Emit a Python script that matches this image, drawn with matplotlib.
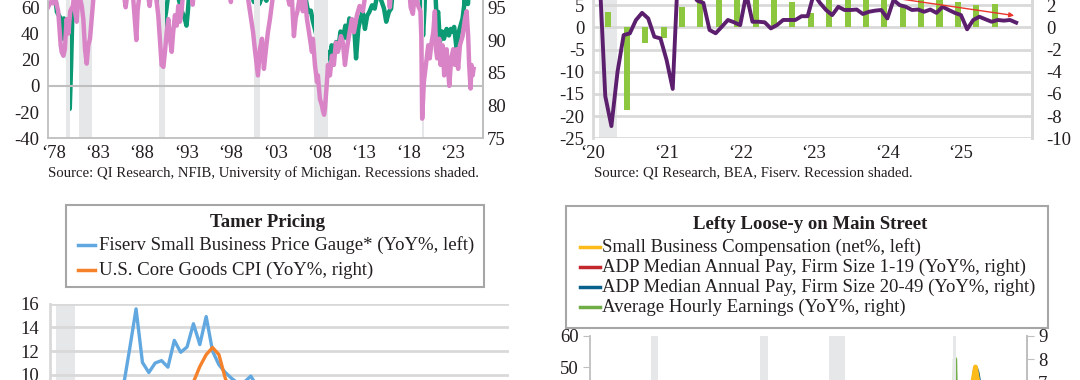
import matplotlib
matplotlib.use("Agg")
import matplotlib.pyplot as plt
from matplotlib.patches import Rectangle
from matplotlib.lines import Line2D

plt.rcParams['font.family'] = ['Liberation Serif', 'DejaVu Serif']
plt.rcParams['axes.unicode_minus'] = False

W, H = 1080, 380
TXT = '#231F20'
GRID = '#D9D9D9'
SPINE = '#BFBFBF'
SHADE = '#E6E7E8'

# recessions (decimal years)
rec_start = [1980.0, 1981.5, 1990.5, 2001.17, 2007.92, 2020.08]
rec_end = [1980.5, 1982.92, 1991.17, 2001.92, 2009.5, 2020.33]

# ---- top left: NFIB / Michigan ----
pink_pts = [
    (1978.0, 60), (1978.3, 64), (1978.6, 63), (1978.85, 66), (1979.15, 57), (1979.43, 31),
    (1979.54, 26), (1979.73, 23), (1979.9, 28), (1980.1, 51), (1980.3, 40), (1980.5, 57),
    (1980.8, 61), (1980.95, 70), (1981.04, 57), (1981.23, 49), (1981.45, 72), (1981.8, 61),
    (1981.98, 51), (1982.17, 28), (1982.36, 17), (1982.54, 31), (1982.73, 36), (1982.92, 51),
    (1983.2, 74), (1984.0, 88), (1985.0, 84), (1986.0, 82), (1986.5, 72), (1986.75, 60),
    (1987.0, 74), (1987.5, 76), (1987.8, 48), (1987.95, 35), (1988.1, 58), (1988.4, 75),
    (1989.0, 80), (1989.3, 68), (1989.45, 61), (1989.65, 74), (1990.1, 72), (1990.42, 54),
    (1990.6, 36), (1990.8, 16), (1991.0, 14.5), (1991.2, 28), (1991.37, 41), (1991.55, 51),
    (1991.74, 36), (1991.93, 26), (1992.1, 41), (1992.3, 54), (1992.5, 46), (1992.67, 61),
    (1992.86, 49), (1993.05, 57), (1993.2, 70), (1994.0, 80), (1994.3, 62), (1994.5, 78),
    (1995.5, 84), (1996.5, 86), (1997.5, 94), (1998.4, 90), (1998.6, 64), (1998.8, 90),
    (1999.5, 97), (2000.3, 92), (2000.55, 66), (2000.75, 57), (2001.1, 41), (2001.3, 28),
    (2001.65, 8), (2001.87, 28), (2002.1, 36), (2002.32, 13), (2002.55, 28), (2002.77, 41),
    (2003.0, 51), (2003.2, 61), (2003.4, 72), (2004.0, 80), (2004.8, 74), (2005.2, 62),
    (2005.45, 70), (2005.7, 38), (2005.9, 52), (2006.1, 57), (2006.4, 70), (2006.7, 57),
    (2006.95, 66), (2007.17, 51), (2007.4, 41), (2007.73, 26), (2007.84, 36), (2008.07, 16),
    (2008.3, 3), (2008.4, 8), (2008.63, -10), (2008.86, -15), (2008.97, -19), (2009.1, -22),
    (2009.2, -17), (2009.42, 3), (2009.53, 16), (2009.76, 8), (2009.98, 23), (2010.2, 16),
    (2010.43, 33), (2010.66, 26), (2011.0, 38), (2011.22, 33), (2011.45, 16), (2011.67, 28),
    (2011.9, 38), (2012.23, 51), (2012.46, 41), (2012.8, 54), (2013.1, 61), (2013.47, 57),
    (2013.8, 72), (2014.5, 82), (2015.5, 92), (2016.2, 84), (2016.5, 60), (2016.8, 84),
    (2017.5, 95), (2018.5, 92), (2018.85, 60), (2019.1, 55), (2019.35, 72), (2019.7, 61),
    (2019.95, 57), (2020.05, 38), (2020.15, -25), (2020.34, 3), (2020.57, 16), (2020.83, 31),
    (2021.0, 21), (2021.2, 33), (2021.4, 41), (2021.58, 57), (2021.7, 28), (2021.84, 21),
    (2022.07, 36), (2022.22, 16), (2022.45, 31), (2022.63, 8), (2022.9, 28), (2023.2, 0),
    (2023.42, 21), (2023.65, 28), (2023.84, 16), (2024.02, 28), (2024.2, 13), (2024.4, 31),
    (2024.7, 38), (2024.96, 51), (2025.15, 57), (2025.33, 38), (2025.44, 16), (2025.6, -2),
    (2025.7, 16), (2025.83, 8), (2025.94, 13),
]
green_pts = [
    (1978.0, 101), (1978.5, 99), (1978.8, 97), (1979.0, 94.3), (1979.25, 93.7), (1979.45, 93.3),
    (1979.65, 90.2), (1979.8, 93.3), (1980.0, 93.0), (1980.15, 91.3), (1980.3, 86), (1980.45, 79.5),
    (1980.6, 86), (1980.75, 94.3), (1980.95, 95.3), (1981.2, 98), (1981.5, 97), (1981.8, 94.8),
    (1982.0, 94.3), (1982.2, 95.5), (1982.35, 94.5), (1982.55, 95.8), (1982.7, 94.3), (1982.9, 97),
    (1983.3, 102), (1984.0, 106), (1985.0, 103), (1986.0, 101), (1987.0, 101), (1988.0, 100),
    (1989.0, 99), (1990.0, 97.5), (1990.4, 96.5), (1990.6, 93.3), (1990.75, 91.7), (1990.9, 91.3),
    (1991.05, 92.2), (1991.3, 94.3), (1991.5, 96.5), (1992.0, 97), (1992.5, 97.5), (1992.9, 95.3),
    (1993.1, 94.3), (1993.4, 93.3), (1993.6, 92.2), (1993.75, 94.3), (1993.9, 97), (1994.5, 100),
    (1995.5, 101), (1997.0, 102), (1999.0, 101), (2000.0, 101), (2000.8, 97.5), (2001.2, 95.8),
    (2001.5, 96.8), (2001.8, 95.5), (2002.2, 97), (2002.6, 96), (2003.0, 97.5), (2004.0, 104),
    (2005.0, 102), (2006.0, 100), (2006.4, 97), (2006.7, 95.3), (2007.0, 96.5), (2007.3, 94.3),
    (2007.6, 94.5), (2007.85, 92.8), (2008.1, 91.5), (2008.25, 90.7), (2008.4, 90.2), (2008.55, 91.3),
    (2008.75, 88.7), (2008.95, 86.1), (2009.15, 81.5), (2009.3, 86.1), (2009.5, 88.2), (2009.75, 87.2),
    (2009.95, 89.2), (2010.2, 88.2), (2010.45, 89.7), (2010.7, 88.7), (2010.95, 91.3), (2011.2, 90.2),
    (2011.5, 92.2), (2011.7, 90.2), (2011.95, 93.3), (2012.2, 92.2), (2012.45, 93.0), (2012.7, 87.2),
    (2012.95, 91.7), (2013.2, 93.3), (2013.45, 94.3), (2013.7, 91.7), (2013.95, 93.7), (2014.2, 94.3),
    (2014.5, 95.3), (2014.8, 94.8), (2015.1, 97), (2015.4, 96.5), (2015.6, 95.8), (2015.85, 94.8),
    (2016.1, 92.8), (2016.4, 94.3), (2016.65, 94.8), (2016.9, 98.5), (2017.5, 104), (2018.5, 108),
    (2019.5, 103), (2019.9, 104), (2020.1, 96), (2020.25, 90.7), (2020.4, 94.5), (2020.55, 100),
    (2021.0, 98), (2021.5, 99.7), (2021.68, 96), (2021.77, 93.3), (2021.95, 94.3), (2022.14, 89.7),
    (2022.4, 91.3), (2022.6, 90.2), (2022.9, 91.7), (2023.16, 90.7), (2023.38, 91.7), (2023.57, 91.3),
    (2023.75, 92.0), (2024.02, 88.7), (2024.28, 91.3), (2024.47, 92.2), (2024.7, 93.3), (2024.88, 95.3),
    (2024.95, 101.5), (2025.1, 100.5), (2025.3, 95.5), (2025.45, 98.5), (2025.7, 100.5),
]
tl_years = ['78', '83', '88', '93', '98', '03', '08', '13', '18', '23']

# ---- top right: BEA / Fiserv ----
bars_q = [3.4, -18.6, -3.5, -2.3, 4.5, 9.0, 7.5, 8.0, 7.0, 7.5, 5.8, 3.15,
          6.5, 7.0, 7.5, 6.8, 5.0, 6.5, 6.5, 5.8, 5.0, 5.2]  # Q1 2020 .. Q2 2025, left
purple_m = [5.5, -6.2, -8.9, -4.0, -0.7, -0.55, 0.65, 1.3, 0.8, -0.85, -1.0, -2.95,
            -5.55, 6.8, 8.0, 3.2, 2.4, 2.2, -0.24, -0.54, 0.05, 0.66, 0.45, 0.2,
            3.0, 0.5, 0.5, 0.45, -0.1, 0.2, 0.66, 0.66, 0.66, 1.0, 1.0, 3.0,
            2.2, 1.56, 1.1, 1.85, 1.56, 1.56, 1.6, 1.2, 1.4, 1.5, 1.56, 0.8,
            2.46, 2.0, 1.85, 1.56, 1.6, 1.4, 1.6, 1.3, 1.85, 1.56, 1.3, 1.1,
            -0.18, 0.66, 0.95, 0.72, 0.5, 0.66, 0.6, 0.66, 0.42]  # Jan 2020 .. Sep 2025, right
trend_x = [2023.9, 2025.76]
trend_y = [2.82, 1.02]
tr_years = ['20', '21', '22', '23', '24', '25']

# ---- bottom left: Tamer Pricing ----
fiserv_price = [2.0, 2.2, 2.5, 1.8, 2.4, 3.0, 3.6, 4.2, 4.8, 5.6, 6.5, 9.0,
                12.2, 15.55, 11.05, 10.2, 11.0, 11.2, 10.65, 12.9, 11.9, 12.35, 14.3, 12.55,
                14.9, 12.0, 10.85, 10.2, 9.7, 9.3, 9.4, 9.9, 9.0, 8.6, 8.2, 7.6,
                7.2, 6.8, 6.3, 5.9, 5.5, 5.2, 4.9, 4.7, 4.5, 4.2, 4.0, 3.8,
                3.7, 3.6, 3.4, 3.3, 3.2, 3.0, 2.9, 2.8, 2.7, 2.6, 2.6, 2.5,
                2.5, 2.6, 2.6, 2.7, 2.8, 2.9, 3.0, 3.1]
core_goods = [-0.1, -0.1, -0.3, -0.9, -1.1, -0.6, -0.3, 0.4, 1.1, 1.0, 1.0, 1.0,
              1.3, 1.3, 1.7, 4.4, 6.5, 8.7, 7.8, 7.6, 8.2, 8.4, 9.4, 10.7,
              11.7, 12.3, 11.7, 9.7, 8.5, 7.2, 7.0, 7.1, 6.6, 5.1, 3.7, 2.1,
              1.3, 1.0, 0.6, 2.0, 2.0, 1.3, 0.8, 0.2, 0.0, -0.1, 0.0, 0.2,
              -0.3, -0.3, -0.7, -1.1, -1.7, -1.8, -1.9, -1.9, -1.2, -1.0, -0.6, -0.5,
              -0.1, -0.1, -0.1, 0.1, 0.3, 0.7, 1.2, 1.5]
bl_labels = ['Fiserv Small Business Price Gauge* (YoY%, left)', 'U.S. Core Goods CPI (YoY%, right)']

# ---- bottom right: Lefty Loose-y on Main Street ----
comp_x = [1986, 1988, 1990, 1992, 1994, 1996, 1998, 2000, 2002, 2004, 2006, 2008, 2009, 2010,
          2012, 2014, 2016, 2018, 2019, 2020.2, 2020.4, 2020.8, 2021.3, 2021.6, 2021.9, 2022.05,
          2022.15, 2022.25, 2022.35, 2022.45, 2022.6, 2022.9, 2023.3, 2023.8, 2024.3, 2024.8,
          2025.3, 2025.7]
comp_y = [22, 24, 20, 14, 18, 20, 24, 26, 18, 20, 22, 15, 0, 5, 10, 15, 22, 32, 30, 22, 10, 20,
          36, 40, 44, 46, 48, 50, 48, 46, 44, 40, 38, 34, 32, 30, 30, 28]
adp_x = [2020.8, 2021.0, 2021.3, 2021.6, 2021.9, 2022.1, 2022.2, 2022.3, 2022.45, 2022.6,
         2022.9, 2023.3, 2023.7, 2024.2, 2024.7, 2025.2, 2025.7]
adp_small = [3.8, 4.2, 4.7, 5.4, 6.1, 6.6, 6.8, 6.9, 6.8, 6.5, 6.0, 5.6, 5.2, 4.8, 4.6, 4.4, 4.2]
adp_mid = [4.0, 4.5, 5.0, 5.8, 6.6, 7.2, 7.5, 7.6, 7.4, 7.0, 6.5, 6.0, 5.5, 5.0, 4.8, 4.6, 4.4]
ahe_x = [2007.2, 2008, 2009, 2010, 2011, 2012, 2013, 2014, 2015, 2016, 2017, 2018, 2019, 2020.0,
         2020.17, 2020.25, 2020.33, 2020.5, 2020.8, 2021.2, 2021.6, 2022.0, 2022.5, 2023.0,
         2023.5, 2024.0, 2024.5, 2025.0, 2025.6]
ahe_y = [3.4, 3.6, 3.3, 1.9, 1.9, 1.9, 2.0, 2.1, 2.3, 2.5, 2.6, 2.9, 3.3, 3.1, 3.6, 8.0, 6.6,
         4.9, 4.4, 1.0, 4.5, 5.6, 5.3, 4.5, 4.4, 4.3, 3.8, 3.9, 3.7]
br_labels = ['Small Business Compensation (net%, left)',
             'ADP Median Annual Pay, Firm Size 1-19 (YoY%, right)',
             'ADP Median Annual Pay, Firm Size 20-49 (YoY%, right)',
             'Average Hourly Earnings (YoY%, right)']

fig = plt.figure(figsize=(W / 100, H / 100), dpi=100)


def fx(x):
    return x / W


def fy(y):
    return 1 - y / H


def add_ax(x0, x1, y_top, y_bot):
    return fig.add_axes([fx(x0), fy(y_bot), (x1 - x0) / W, (y_bot - y_top) / H])


def style(ax, spines, color=SPINE, lw=1.3):
    for s in ax.spines:
        ax.spines[s].set_visible(s in spines)
        ax.spines[s].set_color(color)
        ax.spines[s].set_linewidth(lw)
    ax.tick_params(colors=TXT, labelsize=13.5, length=0)
    ax.patch.set_alpha(0)


def shade(ax, lo, hi):
    for s, e in zip(rec_start, rec_end):
        if e > lo and s < hi:
            ax.axvspan(s, e, color=SHADE, lw=0, zorder=0)


# top left
ax1 = add_ax(48, 483, -45.1, 138.3)
ax1r = ax1.twinx()
ax1.set_xlim(1978, 2027)
ax1.set_ylim(-40, 100)
ax1r.set_ylim(75, 103)
shade(ax1, 1978, 2027)
ax1.axhline(0, color=SPINE, lw=1.5, zorder=1)
ax1.plot(*zip(*pink_pts), color='#DA84C8', lw=3.2, zorder=2)
ax1r.plot(*zip(*green_pts), color='#0B9A73', lw=3.2, zorder=3)
ax1.set_yticks(range(-40, 61, 20))
ax1r.set_yticks(range(75, 96, 5))
ax1.set_xticks([1978.6 + 5 * i for i in range(len(tl_years))])
ax1.set_xticklabels(['\u2018' + y for y in tl_years])
style(ax1, ['left', 'bottom', 'right'])
style(ax1r, ['right'])
ax1.tick_params(axis='y', pad=6)
ax1.tick_params(axis='x', pad=5)
ax1r.tick_params(axis='y', pad=3)
ax1.set_zorder(ax1r.get_zorder() + 1)
fig.text(fx(48), fy(173), 'Source: QI Research, NFIB, University of Michigan. Recessions shaded.',
         fontsize=10.6, color=TXT, va='center', ha='left')

# top right
ax2 = add_ax(593, 1032, -17.1, 138.3)
ax2r = ax2.twinx()
ax2.set_xlim(2020.0, 2025.965)
ax2.set_ylim(-25, 10)
ax2r.set_ylim(-10, 4)
shade(ax2, 2020, 2026)
for v in range(-25, 11, 5):
    ax2.axhline(v, color=GRID, lw=2, zorder=1)
bar_x = [2020 + (3 * i + 2.5) / 12 for i in range(len(bars_q))]
ax2.bar(bar_x, bars_q, width=0.082, color='#8DC63F', zorder=2)
purple_x = [2020 + (i + 1) / 12 for i in range(len(purple_m))]
ax2r.plot(purple_x, purple_m, color='#5B1F6D', lw=2.8, zorder=3)
ax2r.annotate('', xy=(trend_x[1], trend_y[1]), xytext=(trend_x[0], trend_y[0]),
              arrowprops=dict(arrowstyle='-|>', color='#E8372C', lw=1, mutation_scale=7))
ax2.set_yticks(range(-25, 6, 5))
ax2r.set_yticks(range(-10, 3, 2))
ax2.set_xticks([2020 + i for i in range(len(tr_years))])
ax2.set_xticklabels(['\u2018' + y for y in tr_years])
style(ax2, ['left', 'right'], GRID, 2)
style(ax2r, ['right'], GRID, 2)
ax2.tick_params(axis='y', pad=6)
ax2.tick_params(axis='x', pad=5)
ax2r.tick_params(axis='y', pad=10)
fig.text(fx(594), fy(173), 'Source: QI Research, BEA, Fiserv. Recession shaded.',
         fontsize=10.6, color=TXT, va='center', ha='left')

# bottom left
ax3 = add_ax(50, 509, 303.5, 493.9)
ax3r = ax3.twinx()
ax3.set_xlim(2020, 2026)
ax3.set_ylim(0, 16)
ax3r.set_ylim(0, 16)
shade(ax3, 2020, 2026)
for v in range(0, 17, 2):
    ax3.axhline(v, color=GRID, lw=2, zorder=1)
month_x = [2020 + (i + 0.5) / 12 for i in range(len(fiserv_price))]
l_blue, = ax3.plot(month_x, fiserv_price, color='#62A8E0', lw=2.4, zorder=3)
l_orange, = ax3r.plot(month_x[:len(core_goods)], core_goods, color='#F5822A', lw=2.4, zorder=3)
ax3.set_yticks(range(10, 17, 2))
ax3.set_xticks([])
ax3r.set_yticks([])
style(ax3, ['left'], GRID, 2)
style(ax3r, [])
ax3.tick_params(axis='y', pad=8)

# bottom right
ax4 = add_ax(590, 1027, 336, 553)
ax4r = ax4.twinx()
ax4.set_xlim(1984.5, 2027.3)
ax4.set_ylim(-10, 60)
ax4r.set_ylim(-0.43, 9)
shade(ax4, 1984.5, 2027.3)
l_green, = ax4r.plot(ahe_x, ahe_y, color='#70AD47', lw=3, zorder=2)
l_yellow, = ax4.plot(comp_x, comp_y, color='#FDBB1A', lw=3.5, zorder=3)
l_red, = ax4r.plot(adp_x, adp_small, color='#C1272D', lw=3, zorder=4)
l_navy, = ax4r.plot(adp_x, adp_mid, color='#07618C', lw=3, zorder=5)
ax4.set_yticks([50, 60])
ax4r.set_yticks([7, 8, 9])
ax4.set_xticks([])
style(ax4, ['left', 'right'])
style(ax4r, ['right'])
ax4.tick_params(axis='y', length=5, color=SPINE, pad=3)
ax4r.tick_params(axis='y', length=5, color=SPINE, pad=3)
ax4.set_zorder(ax4r.get_zorder() + 1)


def legend_box(box, title, title_xy, lines, labels, ys, hx, tx):
    x0, y0, x1, y1 = box
    fig.add_artist(Rectangle((fx(x0), fy(y1)), (x1 - x0) / W, (y1 - y0) / H,
                             transform=fig.transFigure, fill=False,
                             edgecolor='#A6A6A6', lw=1.5))
    fig.text(fx(title_xy[0]), fy(title_xy[1]), title, ha='center', va='center',
             fontsize=13.5, fontweight='bold', color=TXT)
    for ln, lab, y in zip(lines, labels, ys):
        fig.add_artist(Line2D([fx(hx[0]), fx(hx[1])], [fy(y), fy(y)],
                              transform=fig.transFigure, color=ln.get_color(), lw=2.5))
        fig.text(fx(tx), fy(y), lab, ha='left', va='center', fontsize=13.5, color=TXT)


legend_box((66, 205, 484, 287), 'Tamer Pricing', (268, 222), [l_blue, l_orange], bl_labels,
           [245, 270], (78, 95), 99)
legend_box((566, 206, 1048, 328), 'Lefty Loose-y on Main Street', (810, 225),
           [l_yellow, l_red, l_navy, l_green], br_labels, [247, 267, 287, 307], (580, 600), 602)

fig.savefig('out.png', dpi=100)
